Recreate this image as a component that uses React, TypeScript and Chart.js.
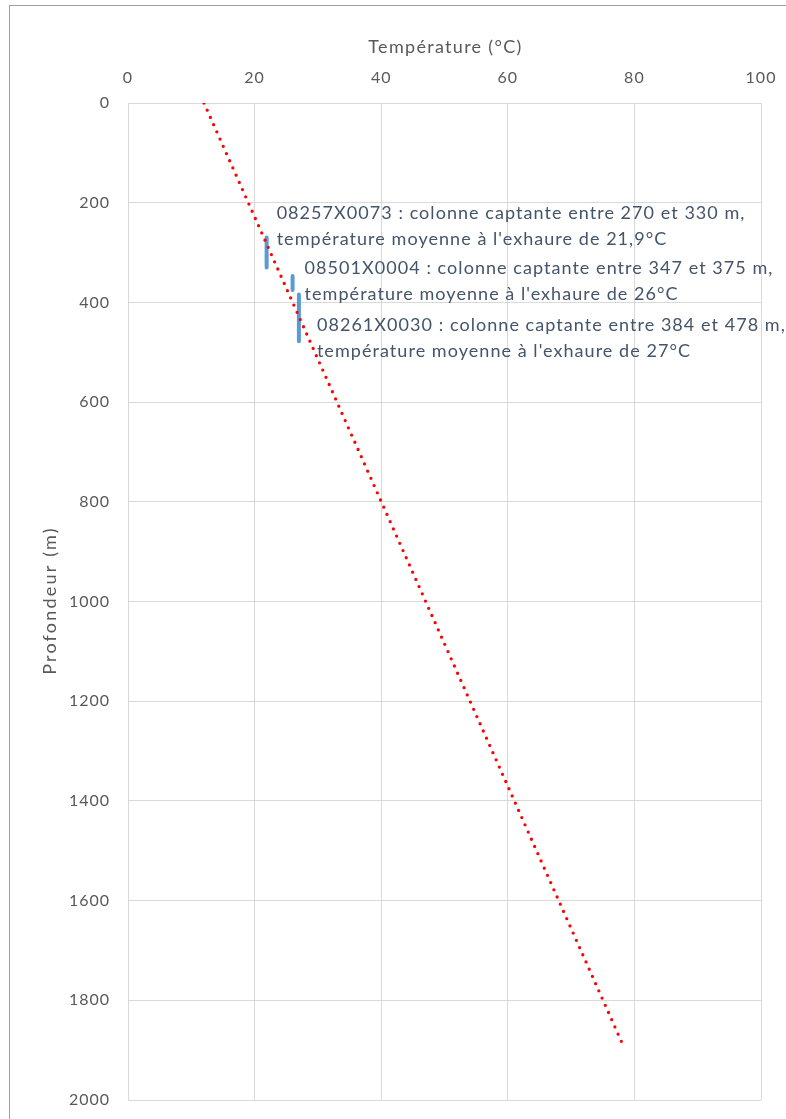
import React, { useEffect, useRef } from "react";
import { Chart, registerables } from "chart.js";

Chart.register(...registerables);

// Geothermal gradient: temperature (°C) against depth (m)
const gradientTemps = [12, 78.2];
const gradientDepths = [0, 1890];

// Wells: screened interval and mean outlet temperature
const wellNames = ["08257X0073", "08501X0004", "08261X0030"];
const wellTemps = [21.9, 26, 27];
const wellTops = [270, 347, 384];
const wellBottoms = [330, 375, 478];
const wellTempLabels = ["21,9", "26", "27"];

// Axis ticks and titles
const tempTicks = [0, 20, 40, 60, 80, 100];
const depthTicks = [0, 200, 400, 600, 800, 1000, 1200, 1400, 1600, 1800, 2000];
const tempTitle = "Température (°C)";
const depthTitle = "Profondeur (m)";

// Pixel offset of each label from the top of its well segment
const labelOffsets = [
  { dx: 10, dy: -18.5 },
  { dx: 12, dy: -2 },
  { dx: 18, dy: 37 },
];

const FONT = "Lato, 'Open Sans', sans-serif";
const AXIS_TEXT = "#595959";

// Slightly tracked text, closer to the spacing of the original office font
const textSpacing = {
  id: "textSpacing",
  beforeDraw(chart: any) {
    chart.ctx.letterSpacing = "1px";
  },
  afterDraw(chart: any) {
    chart.ctx.letterSpacing = "0px";
  },
};

const axisTitles = {
  id: "axisTitles",
  afterDraw(chart: any) {
    const { ctx, chartArea } = chart;
    ctx.save();
    ctx.fillStyle = AXIS_TEXT;
    ctx.font = `18px ${FONT}`;
    ctx.textAlign = "center";
    ctx.textBaseline = "alphabetic";
    ctx.letterSpacing = "1.3px";
    ctx.fillText(tempTitle, (chartArea.left + chartArea.right) / 2 + 1, 52.5);
    ctx.translate(56, (chartArea.top + chartArea.bottom) / 2);
    ctx.rotate(-Math.PI / 2);
    ctx.letterSpacing = "2.2px";
    ctx.fillText(depthTitle, 1, 0);
    ctx.restore();
  },
};

const wellLabels = {
  id: "wellLabels",
  afterDatasetsDraw(chart: any) {
    const { ctx, scales } = chart;
    const xs = scales.x;
    const ys = scales.y;
    ctx.save();
    ctx.font = `18px ${FONT}`;
    ctx.fillStyle = "#44546a";
    ctx.textAlign = "left";
    ctx.textBaseline = "alphabetic";
    ctx.letterSpacing = "1.05px";
    wellNames.forEach((name, i) => {
      const px = xs.getPixelForValue(wellTemps[i]) + labelOffsets[i].dx;
      const py = ys.getPixelForValue(wellTops[i]) + labelOffsets[i].dy;
      ctx.fillText(
        `${name} : colonne captante entre ${wellTops[i]} et ${wellBottoms[i]} m,`,
        px,
        py
      );
      ctx.fillText(
        `température moyenne à l'exhaure de ${wellTempLabels[i]}°C`,
        px,
        py + 26
      );
    });
    ctx.restore();
  },
};

export default function App() {
  const canvasRef = useRef<HTMLCanvasElement | null>(null);

  useEffect(() => {
    const canvas = canvasRef.current;
    if (!canvas) return;

    const datasets: any[] = [
      {
        label: "Gradient",
        data: gradientTemps.map((t, i) => ({ x: t, y: gradientDepths[i] })),
        showLine: true,
        borderColor: "#ff0000",
        borderWidth: 3.3,
        borderDash: [0, 7.9],
        borderCapStyle: "round",
        pointRadius: 0,
        fill: false,
      },
      ...wellNames.map((name, i) => ({
        label: name,
        data: [
          { x: wellTemps[i], y: wellTops[i] },
          { x: wellTemps[i], y: wellBottoms[i] },
        ],
        showLine: true,
        borderColor: "#5b9bd5",
        borderWidth: 4,
        borderCapStyle: "round",
        pointRadius: 0,
        fill: false,
      })),
    ];

    const chart = new Chart(canvas, {
      type: "scatter",
      data: { datasets },
      options: {
        animation: false,
        responsive: false,
        maintainAspectRatio: false,
        layout: { padding: { left: 10, top: 5, right: 25, bottom: 19 } },
        plugins: {
          legend: { display: false },
          tooltip: { enabled: false },
        },
        scales: {
          x: {
            type: "linear",
            position: "top",
            min: 0,
            max: 100,
            afterFit(scale: any) {
              scale.height = 98;
              scale.paddingLeft = 0;
              scale.paddingRight = 0;
            },
            afterBuildTicks(scale: any) {
              scale.ticks = tempTicks.map((v) => ({ value: v }));
            },
            grid: { color: "#d9d9d9", lineWidth: 1, drawTicks: false },
            border: { color: "#d9d9d9" },
            ticks: {
              padding: 16,
              color: AXIS_TEXT,
              font: { family: FONT, size: 16 },
              maxRotation: 0,
              callback: (v: any) => String(v),
            },
          },
          y: {
            type: "linear",
            reverse: true,
            min: 0,
            max: 2000,
            afterFit(scale: any) {
              scale.width = 118;
              scale.paddingTop = 0;
              scale.paddingBottom = 0;
            },
            afterBuildTicks(scale: any) {
              scale.ticks = depthTicks.map((v) => ({ value: v }));
            },
            grid: { color: "#d9d9d9", lineWidth: 1, drawTicks: false },
            border: { color: "#d9d9d9" },
            ticks: {
              padding: 18,
              color: AXIS_TEXT,
              font: { family: FONT, size: 16 },
              callback: (v: any) => String(v),
            },
          },
        },
      },
      plugins: [textSpacing, wellLabels, axisTitles],
    });

    return () => chart.destroy();
  }, []);

  return (
    <div
      style={{
        position: "fixed",
        left: 0,
        top: 0,
        width: 786,
        height: 1119,
        overflow: "hidden",
        background: "#ffffff",
      }}
    >
      <div
        style={{
          position: "absolute",
          left: 9,
          top: 5,
          width: 900,
          height: 1300,
          border: "1px solid #a0a0a0",
          boxSizing: "border-box",
        }}
      />
      <canvas
        ref={canvasRef}
        width={786}
        height={1119}
        style={{ position: "absolute", left: 0, top: 0, width: 786, height: 1119 }}
      />
    </div>
  );
}
